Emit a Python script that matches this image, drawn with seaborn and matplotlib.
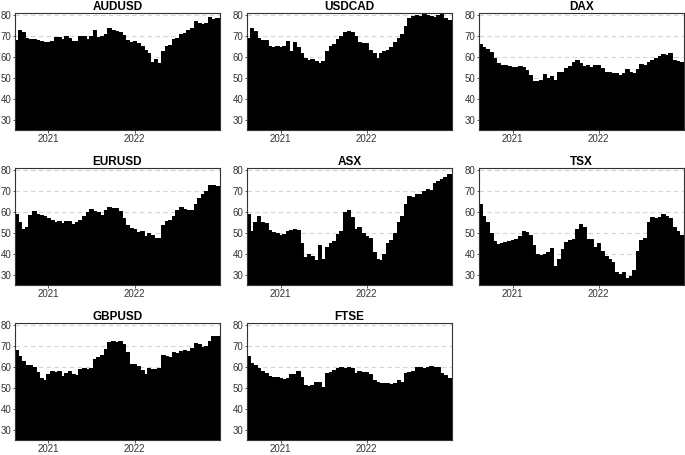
import pandas as pd
import matplotlib
matplotlib.use('Agg')
import matplotlib.pyplot as plt
import seaborn as sns

# semi-monthly readings, Aug 2020 - Dec 2022
dates = pd.date_range('2020-08-15', periods=57, freq='SMS')
x_start = pd.Timestamp('2020-08-12')
x_end = pd.Timestamp('2022-12-29')

names = ['AUDUSD', 'USDCAD', 'DAX', 'EURUSD', 'ASX', 'TSX', 'GBPUSD', 'FTSE']

audusd = [68, 73, 72, 69, 68.5, 68.5, 68, 67.5, 67, 67, 67.5, 69.5, 69.5, 68.5, 70,
          69, 67.5, 67.5, 70, 70, 68.5, 70, 73, 69.5, 70, 71, 74, 73, 72.5, 72,
          70.5, 68, 67, 67.5, 66.5, 65, 63.5, 62, 57.5, 59, 57, 63, 65, 65.5, 68.5,
          69, 71, 71.5, 73, 74, 77, 76, 75.5, 76, 79, 78, 78.5]
usdcad = [69, 74, 72.5, 69, 68, 68, 65, 64.5, 65, 64.5, 65, 67.5, 63, 67, 64.5,
          62, 59.5, 58.5, 59, 58, 57, 58, 63, 65, 66, 68.5, 70, 72, 72.5, 72,
          70, 67, 66.5, 66.5, 63.5, 62, 59.5, 62, 63, 63.5, 64.5, 67, 69, 71, 75,
          78.5, 79.5, 80, 79.5, 80.5, 80, 79.5, 79, 80, 80.5, 78.5, 77.5]
dax = [66, 64.5, 64, 62.5, 59.5, 57, 56, 56, 55.5, 55, 55, 55.5, 55, 53.5, 51.5,
       48.5, 48.5, 49, 52, 50, 51, 49, 53, 53, 54.5, 55.5, 57.5, 58.5, 57, 55.5,
       56, 55, 56, 56, 54.5, 53, 53, 52.5, 52.5, 51.5, 52.5, 54, 53, 52.5, 54,
       56.5, 56, 57.5, 58.5, 59.5, 60.5, 61.5, 61, 62, 58.5, 58, 57.5]
eurusd = [59, 55, 52, 53, 58.5, 60.5, 59, 58.5, 58, 57, 56, 55, 55.5, 54.5, 55.5,
          55.5, 54, 55, 56, 58, 60, 61.5, 60.5, 60, 58.5, 61, 62.5, 62, 62, 60.5,
          57, 53.5, 52.5, 52, 50.5, 51, 48.5, 50, 49, 47.5, 47.5, 53.5, 55.5, 56, 58,
          61, 62.5, 61.5, 61, 61, 64, 66.5, 68.5, 70, 73, 73, 72.5]
asx = [59, 51, 55, 58, 55, 54.5, 51.5, 50.5, 50, 49, 49.5, 51, 51.5, 52, 51.5,
       45, 38.5, 40, 39, 37, 44, 37.5, 43, 45, 46, 49.5, 51, 60, 61, 57.5,
       52, 53, 50, 48.5, 47.5, 41, 37.5, 37, 40, 45, 46.5, 50, 55, 58, 64,
       67.5, 67, 68.5, 68.5, 70, 71, 70.5, 74, 75, 75.5, 76.5, 78]
tsx = [64, 58, 55, 50, 46, 44.5, 45, 45.5, 46, 46.5, 47, 48.5, 51, 50.5, 49,
       44, 40, 39.5, 40, 41, 42.5, 34, 37.5, 42, 45.5, 46.5, 47, 52, 54, 53,
       47, 47, 43, 45, 41.5, 39, 37.5, 36, 31, 30.5, 31, 28.5, 29.5, 32, 41.5,
       46.5, 47.5, 55, 57.5, 57, 57.5, 59, 58, 57, 53, 51, 49]
gbpusd = [68, 65, 63, 61, 61, 60, 57.5, 54.5, 53.5, 56.5, 58, 57.5, 58, 55.5, 57,
          58, 56.5, 56, 59, 59.5, 59, 59.5, 64, 64.5, 65.5, 68.5, 72, 72.5, 72, 72.5,
          71, 67, 61.5, 61.5, 60.5, 58.5, 56.5, 59.5, 59, 59, 59.5, 65.5, 65, 64.5, 67,
          66.5, 67.5, 68, 67.5, 69, 71.5, 71, 69.5, 70, 72.5, 75, 75]
ftse = [65, 62, 61, 59.5, 58, 57, 55.5, 55, 55, 54.5, 54, 54.5, 56.5, 56.5, 58,
        55, 51.5, 51, 51.5, 53, 53, 50.5, 57, 57.5, 58.5, 59.5, 60, 59.5, 60, 59.5,
        57, 58, 57.5, 57.5, 56.5, 53.5, 53, 52.5, 52.5, 52.5, 52, 52.5, 53.5, 53, 57,
        57.5, 58, 60, 60, 59.5, 60, 60.5, 60, 60, 57, 56, 54.5]

series = [audusd, usdcad, dax, eurusd, asx, tsx, gbpusd, ftse]
y_ticks = [30, 40, 50, 60, 70, 80]
year_ticks = [pd.Timestamp('2021-01-01'), pd.Timestamp('2022-01-01')]
year_labels = ['2021', '2022']

sns.set_theme(style='white')
plt.rcParams['font.family'] = ['Liberation Sans Narrow', 'Liberation Sans', 'DejaVu Sans']

fig, axes = plt.subplots(3, 3, figsize=(6.85, 4.55), dpi=100)
fig.subplots_adjust(left=15 / 685, right=684 / 685, bottom=1 - 440 / 455,
                    top=1 - 13 / 455, wspace=27 / 204, hspace=38 / 117)

for ax, name, vals in zip(axes.flat, names, series):
    # pad both ends so the area reaches the panel edges
    xs = pd.DatetimeIndex([x_start]).append(dates).append(pd.DatetimeIndex([x_end]))
    ys = [vals[0]] + list(vals) + [vals[-1]]
    df = pd.DataFrame({'date': xs, 'value': ys})
    for yt in y_ticks:
        ax.axhline(yt, color='#d4d4d4', linestyle=(0, (4, 3)), linewidth=0.8, zorder=0)
    ax.fill_between(df['date'], df['value'], 25, step='mid', color='black',
                    linewidth=0, zorder=2)
    sns.lineplot(data=df, x='date', y='value', ax=ax, color='black',
                 drawstyle='steps-mid', linewidth=0.7, zorder=3)
    ax.set_xlim(x_start, x_end)
    ax.set_ylim(25, 81)
    ax.set_yticks(y_ticks)
    ax.set_xticks(year_ticks)
    ax.set_xticklabels(year_labels)
    ax.set_xlabel('')
    ax.set_ylabel('')
    ax.set_title(name, fontsize=8.5, fontweight='bold', pad=2, color='black')
    ax.tick_params(axis='both', labelsize=7, length=1.8, width=0.6, pad=1,
                   colors='#333333', labelcolor='#333333', bottom=True, left=True)
    for sp in ax.spines.values():
        sp.set_color('#333333')
        sp.set_linewidth(0.8)
        sp.set_zorder(4)

axes.flat[-1].set_visible(False)

fig.savefig('out.png', dpi=100)
